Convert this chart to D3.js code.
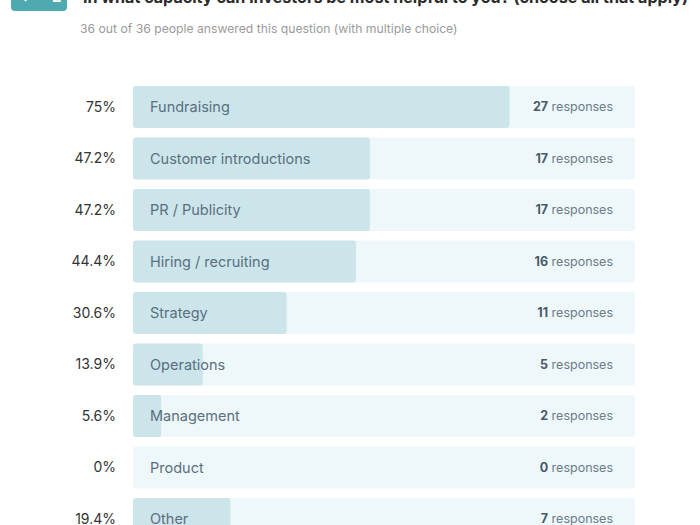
<!DOCTYPE html>
<html>
<head>
<meta charset="utf-8">
<script src="https://cdn.jsdelivr.net/npm/d3@7"></script>
<style>
  body { margin: 0; background: #fff; }
  text { font-family: "Inter", "Noto Sans", sans-serif; }
</style>
</head>
<body>
<script>
// survey answers
const categories = ['Fundraising', 'Customer introductions', 'PR / Publicity', 'Hiring / recruiting',
    'Strategy', 'Operations', 'Management', 'Product', 'Other'];
const percents = [75, 47.2, 47.2, 44.4, 30.6, 13.9, 5.6, 0, 19.4];
const responses = [27, 17, 17, 16, 11, 5, 2, 0, 7];

const svg = d3.select('body').append('svg')
    .attr('width', 700)
    .attr('height', 525);

// header (cut off at the top in the original)
svg.append('rect')
    .attr('x', 11).attr('y', -20)
    .attr('width', 56).attr('height', 31)
    .attr('rx', 4)
    .attr('fill', '#4fa9b0');

svg.append('text')
    .attr('x', 20).attr('y', 2)
    .attr('font-size', 15)
    .attr('font-weight', 'bold')
    .attr('fill', '#fff')
    .text('\u2713');

svg.append('text')
    .attr('x', 52).attr('y', 2)
    .attr('font-size', 15)
    .attr('font-weight', 'bold')
    .attr('fill', '#fff')
    .text('2');

svg.append('text')
    .attr('x', 83).attr('y', 3)
    .attr('font-size', 16)
    .attr('font-weight', 'bold')
    .attr('fill', '#2b2b2b')
    .attr('textLength', 605)
    .attr('lengthAdjust', 'spacingAndGlyphs')
    .text('In what capacity can investors be most helpful to you? (choose all that apply)');

svg.append('text')
    .attr('x', 80).attr('y', 33)
    .attr('font-size', 12.2)
    .attr('fill', '#9a9a9a')
    .text('36 out of 36 people answered this question (with multiple choice)');

const x = d3.scaleLinear().domain([0, 100]).range([133, 635]);
const y = d3.scaleBand().domain(categories).range([86, 540]).paddingInner(0.184).paddingOuter(0);

const rows = svg.selectAll('g.row')
    .data(categories)
    .enter()
  .append('g')
    .attr('class', 'row');

// background track
rows.append('rect')
    .attr('x', x(0))
    .attr('y', d => y(d))
    .attr('width', x(100) - x(0))
    .attr('height', y.bandwidth())
    .attr('rx', 3)
    .attr('fill', '#eef7f9');

// filled part
rows.append('rect')
    .attr('x', x(0))
    .attr('y', d => y(d))
    .attr('width', (d, i) => x(percents[i]) - x(0))
    .attr('height', y.bandwidth())
    .attr('rx', 3)
    .attr('fill', '#cbe5ea');

rows.append('text')
    .attr('x', 116)
    .attr('y', d => y(d) + y.bandwidth() / 2)
    .attr('dy', '0.35em')
    .attr('text-anchor', 'end')
    .attr('font-size', 14)
    .attr('fill', '#333')
    .text((d, i) => percents[i] + '%');

rows.append('text')
    .attr('x', 150)
    .attr('y', d => y(d) + y.bandwidth() / 2)
    .attr('dy', '0.35em')
    .attr('font-size', 14.5)
    .attr('fill', '#5b6f80')
    .text(d => d);

const resp = rows.append('text')
    .attr('x', 613)
    .attr('y', d => y(d) + y.bandwidth() / 2)
    .attr('dy', '0.35em')
    .attr('text-anchor', 'end')
    .attr('font-size', 12.5)
    .attr('fill', '#6b7c8c');

resp.append('tspan')
    .attr('font-weight', 'bold')
    .attr('fill', '#475a6b')
    .text((d, i) => responses[i]);

resp.append('tspan')
    .text(' responses');
</script>
</body>
</html>
